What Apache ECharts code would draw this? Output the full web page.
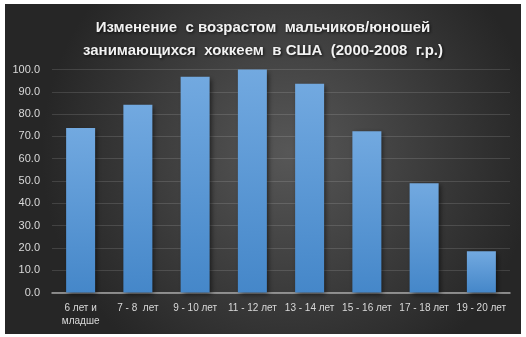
<!DOCTYPE html>
<html><head><meta charset="utf-8">
<script src="https://cdn.jsdelivr.net/npm/echarts@6/dist/echarts.min.js"></script>
<style>html,body{margin:0;padding:0;background:#fff}#c{width:526px;height:337px}</style>
</head><body><div id="c"></div>
<script>
var categories = ['6 лет и\nмладше', '7 - 8  лет', '9 - 10 лет', '11 - 12 лет', '13 - 14 лет', '15 - 16 лет', '17 - 18 лет', '19 - 20 лет'];
var values = [73.8, 84.2, 96.8, 100.0, 93.6, 72.3, 49.0, 18.5];
var titleText = 'Изменение  с возрастом  мальчиков/юношей\nзанимающихся  хоккеем  в США  (2000-2008  г.р.)';

var chart = echarts.init(document.getElementById('c'), null, {renderer: 'canvas'});
chart.setOption({
  animation: false,
  graphic: [{
    type: 'rect', z: -10, silent: true,
    shape: {x: 5, y: 4, width: 516, height: 330},
    style: {fill: new echarts.graphic.RadialGradient(0.55, 0.45, 0.75, [
      {offset: 0, color: '#575757'},
      {offset: 1, color: '#262626'}
    ])}
  }],
  title: {
    text: titleText,
    left: 'center', top: 11,
    textStyle: {
      color: '#f2f2f2', fontSize: 15, fontWeight: 'bold', fontFamily: 'Liberation Sans',
      lineHeight: 23,
      textShadowColor: 'rgba(0,0,0,0.8)', textShadowBlur: 3, textShadowOffsetX: 1, textShadowOffsetY: 1
    }
  },
  grid: {left: 52, right: 16, top: 69.5, bottom: 44.5, containLabel: false},
  xAxis: {
    type: 'category', data: categories,
    axisLine: {lineStyle: {color: '#a6a6a6', width: 1.5}},
    axisTick: {show: false},
    axisLabel: {color: '#d9d9d9', fontSize: 10, fontFamily: 'Liberation Sans', interval: 0, margin: 9, lineHeight: 13}
  },
  yAxis: {
    type: 'value', min: 0, max: 100, interval: 10,
    axisLine: {show: false}, axisTick: {show: false},
    splitLine: {lineStyle: {color: 'rgba(255,255,255,0.13)', width: 1}},
    axisLabel: {color: '#d9d9d9', fontSize: 11, fontFamily: 'Liberation Sans', margin: 12,
      formatter: function (v) { return v.toFixed(1); }}
  },
  series: [{
    type: 'bar', data: values, barWidth: 29,
    itemStyle: {
      color: new echarts.graphic.LinearGradient(0, 0, 0, 1, [
        {offset: 0, color: '#72a9e0'},
        {offset: 1, color: '#4587c9'}
      ]),
      shadowColor: 'rgba(0,0,0,0.55)', shadowBlur: 5, shadowOffsetX: 2, shadowOffsetY: 2
    }
  }]
});
</script></body></html>
